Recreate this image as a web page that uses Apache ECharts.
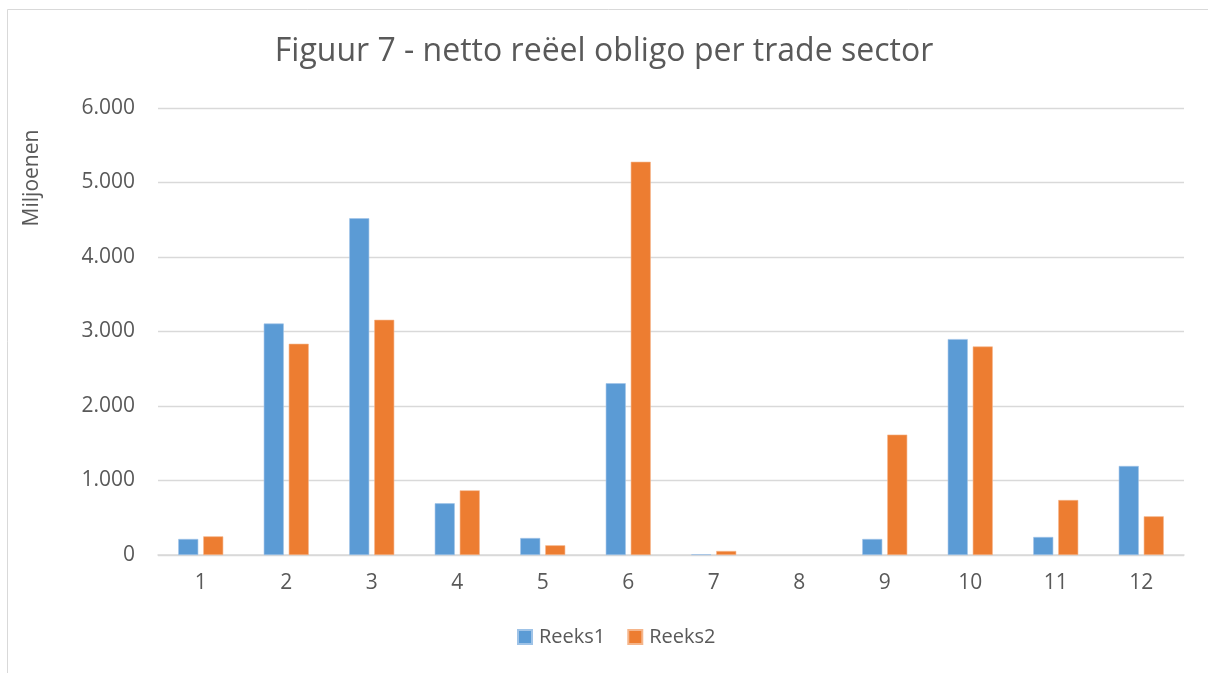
<!DOCTYPE html>
<html><head><meta charset="utf-8">
<script src="https://cdn.jsdelivr.net/npm/echarts@6/dist/echarts.min.js"></script>
<style>html,body{margin:0;padding:0;background:#fff}#c{width:1208px;height:673px}</style>
</head><body><div id="c"></div>
<script>
const categories = ['1','2','3','4','5','6','7','8','9','10','11','12'];
const reeks1 = [215, 3107, 4520, 694, 228, 2305, 10, 0, 215, 2898, 242, 1195];
const reeks2 = [250, 2835, 3157, 868, 130, 5278, 54, 0, 1616, 2799, 738, 519];
const seriesNames = ['Reeks1', 'Reeks2'];
const titleText = 'Figuur 7 - netto reëel obligo per trade sector';
const yAxisTitle = 'Miljoenen';

const FONT = 'Open Sans';
const toData = arr => arr.map(v => v === 0 ? {value: v, itemStyle: {borderWidth: 0}} : v);
const chart = echarts.init(document.getElementById('c'), null, {renderer: 'canvas'});
chart.setOption({
  animation: false,
  backgroundColor: '#fff',
  title: {
    text: titleText, left: 'center', top: 31,
    textStyle: {fontFamily: FONT, fontSize: 32, fontWeight: 'normal', color: '#595959'}
  },
  graphic: [
    {type: 'rect', shape: {x: 7.5, y: 9.5, width: 1300, height: 800}, style: {fill: 'none', stroke: '#d9d9d9', lineWidth: 1}, silent: true},
    {type: 'text', x: 32, y: 178, rotation: Math.PI / 2,
     style: {text: yAxisTitle, fontFamily: FONT, fontSize: 21, fill: '#595959', align: 'center', verticalAlign: 'middle'}}
  ],
  legend: {
    data: seriesNames, bottom: 21, left: 512, itemWidth: 14, itemHeight: 14, itemGap: 22,
    icon: 'rect',
    textStyle: {fontFamily: FONT, fontSize: 20, color: '#595959', padding: [0, 0, 0, 2]}
  },
  grid: {left: 158, right: 24, top: 108, bottom: 118, containLabel: false},
  xAxis: {
    type: 'category', data: categories,
    axisLine: {lineStyle: {color: '#d9d9d9', width: 1.5}},
    axisTick: {show: false},
    axisLabel: {fontFamily: FONT, fontSize: 21, color: '#595959', margin: 18}
  },
  yAxis: {
    type: 'value', min: 0, max: 6000, interval: 1000,
    axisLine: {show: false}, axisTick: {show: false},
    splitLine: {lineStyle: {color: '#d9d9d9', width: 1.3}},
    axisLabel: {fontFamily: FONT, fontSize: 21, color: '#595959', margin: 23,
      formatter: v => v === 0 ? '0' : String(v).replace(/\B(?=(\d{3})+(?!\d))/g, '.')}
  },
  series: [
    {name: seriesNames[0], type: 'bar', data: toData(reeks1), barWidth: 20, barGap: '25%',
     itemStyle: {color: '#5B9BD5', borderColor: '#9fc3e7', borderWidth: 0.6}},
    {name: seriesNames[1], type: 'bar', data: toData(reeks2), barWidth: 20, barGap: '25%',
     itemStyle: {color: '#ED7D31', borderColor: '#f5b58a', borderWidth: 0.6}}
  ]
});
</script></body></html>
